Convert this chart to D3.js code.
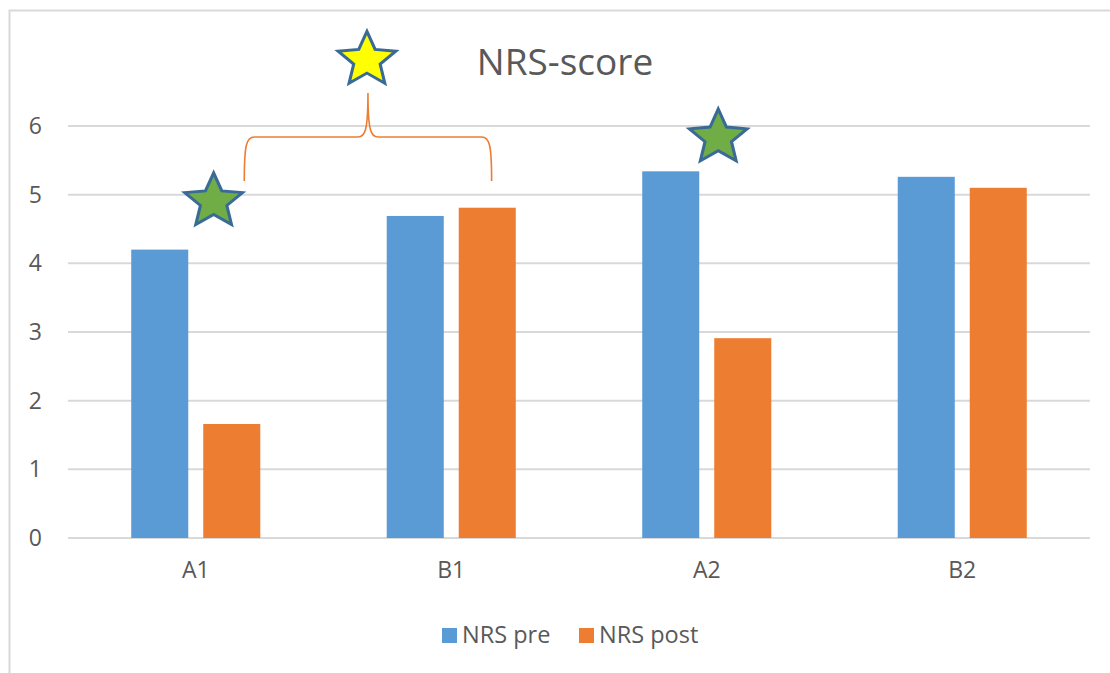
<!DOCTYPE html>
<html>
<head>
<meta charset="utf-8">
<script src="https://cdn.jsdelivr.net/npm/d3@7"></script>
<style>
  body { margin: 0; background: #fff; }
  svg { display: block; font-family: "Open Sans", "Noto Sans", sans-serif; }
  .tick text { fill: #595959; }
</style>
</head>
<body>
<svg width="1110" height="673"></svg>
<script>
// chart data
var categories = ["A1", "B1", "A2", "B2"];
var seriesNames = ["NRS pre", "NRS post"];
var nrsPre = [4.2, 4.69, 5.34, 5.26];
var nrsPost = [1.66, 4.81, 2.91, 5.1];
var yTicks = [0, 1, 2, 3, 4, 5, 6];
// significance stars: category, position within band, value
var starCats = ["A1", "B1", "A2"];
var starPos = [0.57, 0.17, 0.545];
var starVals = [4.93, 6.99, 5.86];
var starFills = ["#70ad47", "#ffff00", "#70ad47"];

var colors = ["#5b9bd5", "#ed7d31"];

var svg = d3.select("svg"),
    margin = { top: 126, right: 20, bottom: 135, left: 68 },
    width = 1090 - margin.left,
    height = 538 - margin.top;

// outer frame
svg.append("rect")
    .attr("x", 9.5).attr("y", 10.5)
    .attr("width", 1110).attr("height", 700)
    .attr("fill", "none")
    .attr("stroke", "#d9d9d9")
    .attr("stroke-width", 2);

var g = svg.append("g")
    .attr("transform", "translate(" + margin.left + "," + margin.top + ")");

var x0 = d3.scaleBand().domain(categories).range([0, width]).padding(0);
var x1 = d3.scaleBand().domain(seriesNames).range([0, x0.bandwidth()])
    .paddingInner(0.208).paddingOuter(0.878);
var y = d3.scaleLinear().domain([0, 6]).range([height, 0]);

// gridlines
g.selectAll(".grid")
    .data(yTicks)
    .enter().append("line")
    .attr("class", "grid")
    .attr("x1", 0).attr("x2", width)
    .attr("y1", function (d) { return y(d); })
    .attr("y2", function (d) { return y(d); })
    .attr("stroke", "#d9d9d9")
    .attr("stroke-width", 2);

// y axis labels
var yAxis = d3.axisLeft(y).tickValues(yTicks).tickFormat(d3.format("d")).tickSize(0).tickPadding(26);
g.append("g")
    .call(yAxis)
    .attr("font-family", null)
    .attr("font-size", 23)
    .call(function (a) { a.select(".domain").remove(); });

// x axis labels
var xAxis = d3.axisBottom(x0).tickSize(0).tickPadding(24);
g.append("g")
    .attr("transform", "translate(0," + height + ")")
    .call(xAxis)
    .attr("font-family", null)
    .attr("font-size", 23)
    .call(function (a) { a.select(".domain").remove(); });

// bars
var rows = categories.map(function (c, i) {
    return { cat: c, values: [nrsPre[i], nrsPost[i]] };
});
var groups = g.selectAll(".cat")
    .data(rows)
    .enter().append("g")
    .attr("class", "cat")
    .attr("transform", function (d) { return "translate(" + x0(d.cat) + ",0)"; });
groups.selectAll("rect")
    .data(function (d) { return d.values.map(function (v, i) { return { s: seriesNames[i], v: v, i: i }; }); })
    .enter().append("rect")
    .attr("x", function (d) { return x1(d.s); })
    .attr("width", x1.bandwidth())
    .attr("y", function (d) { return y(d.v); })
    .attr("height", function (d) { return y(0) - y(d.v); })
    .attr("fill", function (d) { return colors[d.i]; });

// brace between A1 and B1
var bl = x0("A1") + x0.bandwidth() * 0.69,
    br = x0("B1") + x0.bandwidth() * 0.658,
    bm = (bl + br) / 2,
    yb = y(5.2), yh = y(5.84), yp = y(6.48);
g.append("path")
    .attr("d", "M" + bl + "," + yb +
        " C" + bl + "," + (yh + 8) + " " + (bl + 2) + "," + yh + " " + (bl + 10) + "," + yh +
        " L" + (bm - 10) + "," + yh +
        " C" + (bm - 3) + "," + yh + " " + bm + "," + (yh - 6) + " " + bm + "," + yp +
        " C" + bm + "," + (yh - 6) + " " + (bm + 3) + "," + yh + " " + (bm + 10) + "," + yh +
        " L" + (br - 10) + "," + yh +
        " C" + (br - 2) + "," + yh + " " + br + "," + (yh + 8) + " " + br + "," + yb)
    .attr("fill", "none")
    .attr("stroke", "#ed7d31")
    .attr("stroke-width", 1.6);

// stars (five points, fairly fat arms like office shapes)
var outerR = 29.5, innerR = 13.5;
var starPts = d3.range(10).map(function (k) {
    return [k * Math.PI / 5, k % 2 ? innerR : outerR];
});
var star = d3.lineRadial().curve(d3.curveLinearClosed);
g.selectAll(".star")
    .data(starCats.map(function (c, i) { return { cat: c, p: starPos[i], v: starVals[i], f: starFills[i] }; }))
    .enter().append("path")
    .attr("class", "star")
    .attr("d", star(starPts))
    .attr("transform", function (d) {
        return "translate(" + (x0(d.cat) + d.p * x0.bandwidth()) + "," + (y(d.v) + 2) + ") scale(1.03,0.97)";
    })
    .attr("fill", function (d) { return d.f; })
    .attr("stroke", "#3a6b96")
    .attr("stroke-width", 3)
    .attr("stroke-linejoin", "miter");

// title
svg.append("text")
    .attr("x", 565)
    .attr("y", 75)
    .attr("text-anchor", "middle")
    .style("font-size", "37px")
    .style("fill", "#595959")
    .text("NRS-score");

// legend
var legend = svg.append("g").attr("transform", "translate(0,643)");
var legX = [442, 579];
seriesNames.forEach(function (s, i) {
    legend.append("rect")
        .attr("x", legX[i]).attr("y", -15)
        .attr("width", 15).attr("height", 15)
        .attr("fill", colors[i]);
    legend.append("text")
        .attr("x", legX[i] + 20)
        .attr("y", 0)
        .style("font-size", "23.5px")
        .style("fill", "#595959")
        .text(s);
});
</script>
</body>
</html>
